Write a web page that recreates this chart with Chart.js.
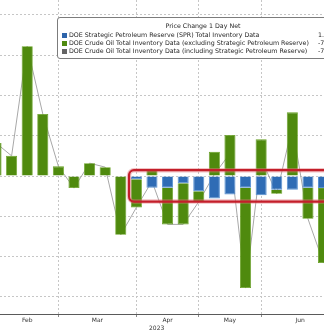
<!DOCTYPE html>
<html><head><meta charset="utf-8">
<script src="https://cdn.jsdelivr.net/npm/chart.js@4.4.1/dist/chart.umd.min.js"></script>
<style>
html,body{margin:0;padding:0;background:#fff;overflow:hidden;}
#wrap{position:relative;width:324px;height:332px;overflow:hidden;}
#legend{position:absolute;left:57px;top:17px;width:290px;height:40px;border:1px solid #7c7c7c;border-radius:3px;background:#fff;font-family:"DejaVu Sans";font-size:6.3px;color:#1e1e1e;}
#legend .t{position:absolute;left:0;right:0;top:4px;line-height:8px;text-align:center;white-space:nowrap;}
#legend .r{position:absolute;left:4px;right:0;height:8px;line-height:8px;white-space:nowrap;}
#legend .sw{position:absolute;left:0;top:1.5px;width:5px;height:5px;}
#legend .n{position:absolute;left:7px;top:0;}
#legend .v{position:absolute;left:256px;top:0;}
</style></head><body>
<div id="wrap"><canvas id="c" width="324" height="332"></canvas><div id="legend"></div></div>
<script>
// weekly data (million barrels)
const weeks = ['2023-02-03','2023-02-10','2023-02-17','2023-02-24','2023-03-03','2023-03-10','2023-03-17','2023-03-24','2023-03-31','2023-04-07','2023-04-14','2023-04-21','2023-04-28','2023-05-05','2023-05-12','2023-05-19','2023-05-26','2023-06-02','2023-06-09','2023-06-16','2023-06-23','2023-06-30'];
const spr          = [0, 0, 0, 0, 0, 0, 0, 0, 0, -0.4, -1.45, -1.45, -0.9, -1.9, -2.8, -2.3, -1.45, -2.4, -1.7, -1.7, -1.45, -1.5];
const crudeExSpr   = [4.1, 2.5, 16.1, 7.7, 1.2, -1.5, 1.6, 1.1, -7.3, -3.5, 0.8, -4.55, -5.1, -1.3, 3.0, 5.1, -12.45, 4.55, -0.5, 7.9, -3.85, -9.3];
const crudeInclSpr = [4.1, 2.5, 16.1, 7.7, 1.2, -1.5, 1.6, 1.1, -7.3, -3.9, -0.65, -6.0, -6.0, -3.2, 0.2, 2.8, -13.9, 2.15, -2.2, 6.2, -5.3, -10.8];
const yTicks = [-15, -10, -5, 0, 5, 10, 15, 20];
const monthNames = ['Jan','Feb','Mar','Apr','May','Jun','Jul','Aug','Sep','Oct','Nov','Dec'];
const yearLabel = '2023';
const legendTitle = 'Price Change 1 Day Net';
const seriesNames = ['DOE Strategic Petroleum Reserve (SPR) Total Inventory Data','DOE Crude Oil Total Inventory Data (excluding Strategic Petroleum Reserve)','DOE Crude Oil Total Inventory Data (including Strategic Petroleum Reserve)'];
const lastChanges = ['1.12', '-7.60', '-7.30'];

// month boundaries derived from the week dates
const monthStarts = [];
const monthLabels = [];
weeks.forEach((d, i) => {
  const m = +d.slice(5, 7) - 1;
  if (i === 0 || m !== +weeks[i - 1].slice(5, 7) - 1) { monthStarts.push(i); monthLabels.push(monthNames[m]); }
});
const monthCenters = monthStarts.map((s, k) => (s + (k + 1 < monthStarts.length ? monthStarts[k + 1] : weeks.length)) / 2);
const yearPos = 10.3;

const colBlue = '#2f6cb5', colBlueEdge = '#5a92d2';
const colGreen = '#4f8a0e', colGreenEdge = '#66a020';
const colLine = '#a8a8a8';
const swatches = ['#2d64aa', '#4f8a10', '#646464'];

// legend (HTML)
const lg = document.getElementById('legend');
let html = '<div class="t">' + legendTitle + '</div>';
seriesNames.forEach((n, i) => {
  html += '<div class="r" style="top:' + (13 + i * 8) + 'px"><span class="sw" style="background:' + swatches[i] + '"></span><span class="n">' + n + '</span><span class="v">' + lastChanges[i] + '</span></div>';
});
lg.innerHTML = html;

const xMin = 0.256, xMax = 21.03;
const font = { family: 'DejaVu Sans', size: 6, lineHeight: 1 };

const highlight = {
  id: 'highlight',
  afterDatasetsDraw(chart) {
    const xs = chart.scales.x, ys = chart.scales.y, ctx = chart.ctx;
    const x0 = xs.getPixelForValue(8.53), x1 = xs.getPixelForValue(23);
    const y0 = ys.getPixelForValue(0.72), y1 = ys.getPixelForValue(-3.17);
    ctx.save();
    ctx.beginPath(); ctx.roundRect(x0, y0, x1 - x0, y1 - y0, 5);
    ctx.strokeStyle = 'rgba(225,120,125,0.45)'; ctx.lineWidth = 4.5; ctx.stroke();
    ctx.beginPath(); ctx.roundRect(x0, y0, x1 - x0, y1 - y0, 5);
    ctx.strokeStyle = '#c41e2a'; ctx.lineWidth = 2.2; ctx.stroke();
    ctx.restore();
  }
};

new Chart(document.getElementById('c'), {
  data: {
    datasets: [
      { type: 'bar', label: seriesNames[0], data: spr.map((v, i) => ({ x: i, y: v })), backgroundColor: colBlue, borderColor: colBlueEdge, borderWidth: ctx => (ctx.raw && ctx.raw.y !== 0 ? 1 : 0), order: 1, barPercentage: 0.71, categoryPercentage: 1 },
      { type: 'bar', label: seriesNames[1], data: crudeExSpr.map((v, i) => ({ x: i, y: v })), backgroundColor: colGreen, borderColor: colGreenEdge, borderWidth: 0.8, order: 2, barPercentage: 0.71, categoryPercentage: 1 },
      { type: 'line', label: seriesNames[2], data: crudeInclSpr.map((v, i) => ({ x: i, y: v })), borderColor: colLine, borderWidth: 1, pointRadius: 0, tension: 0, order: 3 }
    ]
  },
  options: {
    responsive: false, animation: false, events: [],
    layout: { padding: 0 },
    plugins: { legend: { display: false }, tooltip: { enabled: false } },
    scales: {
      x: {
        type: 'linear', stacked: true, offset: false, position: 'bottom', weight: 0, min: xMin, max: xMax,
        afterBuildTicks: s => { s.ticks = monthStarts.map(v => ({ value: v })); },
        afterFit: s => { s.height = 3; },
        ticks: { display: false },
        grid: { offset: false, color: '#c6c6c6', lineWidth: 1, drawTicks: true, tickLength: 3, tickColor: '#8a8a8a' },
        border: { display: true, color: '#5a5a5a', width: 1, dash: [2, 2] }
      },
      xm: {
        type: 'linear', offset: false, position: 'bottom', weight: 1, min: xMin, max: xMax,
        afterBuildTicks: s => { s.ticks = monthCenters.map(v => ({ value: v })); },
        afterFit: s => { s.height = 8; },
        ticks: { callback: (v, i) => monthLabels[i], autoSkip: false, maxRotation: 0, padding: 0, font: font, color: '#333' },
        grid: { display: false, drawTicks: false, tickLength: 0, offset: false }, border: { display: false }
      },
      xy: {
        type: 'linear', offset: false, position: 'bottom', weight: 2, min: xMin, max: xMax,
        afterBuildTicks: s => { s.ticks = [{ value: yearPos }]; },
        afterFit: s => { s.height = 7; },
        ticks: { callback: () => yearLabel, autoSkip: false, maxRotation: 0, padding: 0, font: font, color: '#333' },
        grid: { display: false, drawTicks: false, tickLength: 0, offset: false }, border: { display: false }
      },
      y: {
        stacked: true, min: -17.12, max: 21.84,
        afterBuildTicks: s => { s.ticks = yTicks.map(v => ({ value: v })); },
        afterFit: s => { s.width = 0; },
        ticks: { display: false },
        grid: { color: '#c6c6c6', lineWidth: 1, drawTicks: false },
        border: { display: false, dash: [2, 2] }
      }
    }
  },
  plugins: [highlight]
});
</script>
</body></html>
